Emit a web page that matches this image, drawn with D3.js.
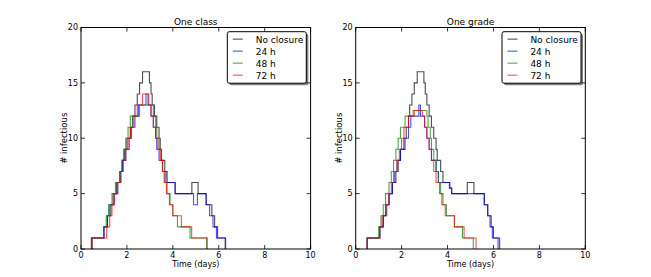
<!DOCTYPE html>
<html>
<head>
<meta charset="utf-8">
<script src="https://cdn.jsdelivr.net/npm/d3@7"></script>
<style>
  body { margin: 0; background: #fff; }
  svg text { font-family: "DejaVu Sans", sans-serif; fill: #000; }
</style>
</head>
<body>
<svg id="chart" width="651" height="277"></svg>
<script>
// step points: [time (days), # infectious] — value holds until the next time
const classNone = [[0.45,0],[0.45,1],[1.0,2],[1.15,3],[1.3,4],[1.4,5],[1.55,6],[1.7,7],[1.8,8],[1.9,9],[2.0,10],[2.15,11],[2.25,12],[2.35,13],[2.45,14],[2.55,15],[2.68,16],[2.98,15],[3.05,14],[3.1,13],[3.2,12],[3.3,11],[3.4,10],[3.45,9],[3.5,8],[3.65,7],[3.75,6],[4.1,5],[4.83,6],[5.1,5],[5.45,4],[5.7,3],[5.82,2],[5.95,1],[6.28,0]];
const class24 = [[0.48,0],[0.48,1],[1.0,2],[1.15,3],[1.25,4],[1.45,5],[1.6,6],[1.7,7],[1.8,8],[1.95,9],[2.1,10],[2.2,11],[2.35,12],[2.5,13],[2.83,14],[2.92,13],[3.05,12],[3.15,11],[3.25,10],[3.3,9],[3.4,8],[3.55,7],[3.7,6],[4.1,5],[4.9,4],[5.07,5],[5.45,4],[5.6,3],[5.75,2],[5.9,1],[6.3,0]];
const class48 = [[0.48,0],[0.48,1],[0.98,2],[1.1,3],[1.2,4],[1.35,5],[1.5,6],[1.7,7],[1.78,8],[1.85,9],[1.95,10],[2.05,11],[2.15,12],[2.55,13],[3.15,12],[3.25,11],[3.3,10],[3.4,9],[3.5,8],[3.55,7],[3.62,6],[3.75,5],[3.88,4],[4.0,3],[4.2,2],[4.75,1],[5.47,0]];
const class72 = [[0.48,0],[0.48,1],[1.12,2],[1.25,3],[1.35,4],[1.45,5],[1.6,6],[1.75,7],[1.85,8],[1.95,9],[2.05,10],[2.15,11],[2.3,12],[2.45,13],[2.68,14],[2.95,13],[3.05,12],[3.15,11],[3.25,10],[3.35,9],[3.45,8],[3.55,7],[3.65,6],[3.72,5],[3.85,4],[4.0,3],[4.37,2],[4.82,1],[5.5,0]];

const gradeNone = [[0.5,0],[0.5,1],[1.05,2],[1.2,3],[1.35,4],[1.45,5],[1.6,6],[1.75,7],[1.85,8],[1.95,9],[2.1,10],[2.2,11],[2.3,12],[2.35,13],[2.45,14],[2.55,15],[2.68,16],[2.97,15],[3.03,14],[3.1,13],[3.2,12],[3.3,11],[3.4,10],[3.5,9],[3.55,8],[3.7,7],[3.8,6],[4.1,5.5],[4.18,5],[4.86,6],[5.15,5],[5.6,4],[5.75,3],[5.9,2],[6.0,1],[6.27,0]];
const grade24 = [[0.5,0],[0.5,1],[1.05,2],[1.2,3],[1.3,4],[1.45,5],[1.6,6],[1.7,7],[1.8,8],[1.95,9],[2.15,10],[2.3,11],[2.4,12],[2.75,13],[2.82,12],[3.0,11],[3.1,10],[3.2,9],[3.3,8],[3.5,7],[3.6,6],[4.08,5.5],[4.18,5],[5.6,4],[5.75,3],[5.85,2],[5.95,1],[6.2,0]];
const grade48 = [[0.5,0],[0.5,1],[1.0,2],[1.1,3],[1.2,4],[1.3,5],[1.45,6],[1.55,7],[1.65,8],[1.75,9],[1.85,10],[1.95,11],[2.15,12],[2.5,12.5],[3.1,12],[3.15,11],[3.25,10],[3.3,9],[3.4,8],[3.5,7],[3.6,6],[3.7,5],[3.8,4],[3.95,3],[4.3,2],[4.65,1],[5.12,0]];
const grade72 = [[0.5,0],[0.5,1],[1.05,2],[1.15,3],[1.3,4],[1.45,5],[1.55,6],[1.65,7],[1.8,8],[1.9,9],[2.0,10],[2.1,11],[2.3,12],[2.55,12.5],[2.9,12],[3.0,11],[3.1,10],[3.2,9],[3.3,8],[3.4,7],[3.5,6],[3.65,5],[3.75,4],[3.9,3],[4.3,2],[4.72,1],[5.24,0]];

const labels = ["No closure", "24 h", "48 h", "72 h"];
const colors = ["#000000", "#0000ff", "#008000", "#ff0000"];
const xTicks = [0, 2, 4, 6, 8, 10];
const yTicks = [0, 5, 10, 15, 20];

const panels = [
  {title: "One class", left: 81, series: [classNone, class24, class48, class72]},
  {title: "One grade", left: 355.7, series: [gradeNone, grade24, grade48, grade72]}
];

const svg = d3.select("#chart");
const plotTop = 27.5, plotBottom = 249, plotW = 229.6;

const y = d3.scaleLinear().domain([0, 20]).range([plotBottom, plotTop]);

panels.forEach(p => {
  const x = d3.scaleLinear().domain([0, 10]).range([p.left, p.left + plotW]);
  const g = svg.append("g");

  const line = d3.line()
    .x(d => x(d[0]))
    .y(d => y(d[1]))
    .curve(d3.curveStepAfter);

  g.selectAll("path.series")
    .data(p.series)
    .enter()
    .append("path")
    .attr("class", "series")
    .attr("d", line)
    .attr("fill", "none")
    .attr("stroke", (d, i) => colors[i])
    .attr("stroke-opacity", 0.7)
    .attr("stroke-width", 1.1);

  // ticks inside on all four sides
  const tk = g.append("g").attr("stroke", "#000").attr("stroke-width", 0.8);
  xTicks.forEach(t => {
    tk.append("line").attr("x1", x(t)).attr("x2", x(t)).attr("y1", plotBottom).attr("y2", plotBottom - 4);
    tk.append("line").attr("x1", x(t)).attr("x2", x(t)).attr("y1", plotTop).attr("y2", plotTop + 4);
  });
  yTicks.forEach(t => {
    tk.append("line").attr("x1", p.left).attr("x2", p.left + 4).attr("y1", y(t)).attr("y2", y(t));
    tk.append("line").attr("x1", p.left + plotW).attr("x2", p.left + plotW - 4).attr("y1", y(t)).attr("y2", y(t));
  });

  g.append("rect")
    .attr("x", p.left).attr("y", plotTop)
    .attr("width", plotW).attr("height", plotBottom - plotTop)
    .attr("fill", "none").attr("stroke", "#000").attr("stroke-width", 1);

  g.selectAll("text.xt").data(xTicks).enter().append("text")
    .attr("x", d => x(d)).attr("y", plotBottom + 8.5)
    .attr("text-anchor", "middle").attr("font-size", 8)
    .text(d => d);
  g.selectAll("text.yt").data(yTicks).enter().append("text")
    .attr("x", p.left - 3).attr("y", d => y(d) + 2.8)
    .attr("text-anchor", "end").attr("font-size", 8)
    .text(d => d);

  g.append("text")
    .attr("x", p.left + plotW / 2).attr("y", plotTop - 3)
    .attr("text-anchor", "middle").attr("font-size", 9)
    .text(p.title);
  g.append("text")
    .attr("x", p.left + plotW / 2).attr("y", 267)
    .attr("text-anchor", "middle").attr("font-size", 8)
    .text("Time (days)");
  g.append("text")
    .attr("transform", `translate(${p.left - 14},${(plotTop + plotBottom) / 2}) rotate(-90)`)
    .attr("text-anchor", "middle").attr("font-size", 8.5)
    .text("# infectious");

  // legend with shadow
  const lx = p.left + 146.3, ly = 31.7;
  g.append("rect").attr("x", lx + 2).attr("y", ly + 2).attr("width", 79).attr("height", 51.5)
    .attr("rx", 2).attr("fill", "#000").attr("fill-opacity", 0.5);
  g.append("rect").attr("x", lx).attr("y", ly).attr("width", 79).attr("height", 51.5)
    .attr("rx", 2).attr("fill", "#fff").attr("stroke", "#000").attr("stroke-width", 1);
  labels.forEach((lab, i) => {
    const yy = ly + 7.5 + i * 12;
    g.append("line").attr("x1", lx + 5.5).attr("x2", lx + 15.5).attr("y1", yy).attr("y2", yy)
      .attr("stroke", colors[i]).attr("stroke-opacity", 0.5).attr("stroke-width", 1.5);
    g.append("text").attr("x", lx + 28.4).attr("y", yy + 3.3)
      .attr("font-size", 9).text(lab);
  });
});
</script>
</body>
</html>
